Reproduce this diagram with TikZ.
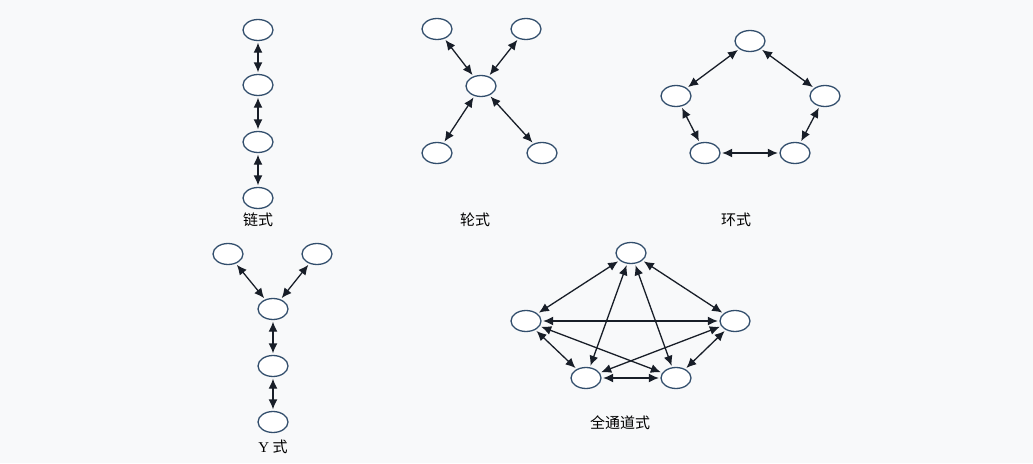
\documentclass[tikz,border=0pt]{standalone}
\usepackage{fontspec}
\newfontfamily\cjk{Noto Sans CJK SC}
\usetikzlibrary{arrows.meta,shapes.geometric}
\definecolor{paper}{RGB}{248,249,250}
\definecolor{rim}{RGB}{50,78,108}
\definecolor{ink}{RGB}{24,30,40}

\begin{document}
\begin{tikzpicture}[
  x=1pt, y=-1pt,
  >={Latex[length=10pt,width=9pt]},
  member/.style={ellipse, draw=rim, line width=1.3pt, fill=white, minimum width=30pt, minimum height=21pt, inner sep=0pt},
  link/.style={<->, line width=1.3pt, draw=ink, shorten <=1.5pt, shorten >=1.5pt},
  caption/.style={font=\cjk\fontsize{15}{17}\selectfont, text=black}
]
\fill[paper] (0,0) rectangle (1033,463);
\useasboundingbox (0,0) rectangle (1033,463);

% Chain
\foreach \i/\y in {1/30,2/85,3/142,4/198}
  \node[member] (c\i) at (258,\y) {};
\foreach \a/\b in {1/2,2/3,3/4}
  \draw[link] (c\a) -- (c\b);
\node[caption] (chainlab) at (258,220) {链式};

% Wheel
\node[member] (w0) at (481,86) {};
\node[member] (w1) at (437,29) {};
\node[member] (w2) at (526,29) {};
\node[member] (w3) at (437,153) {};
\node[member] (w4) at (542,153) {};
\foreach \b in {1,2,3,4}
  \draw[link] (w0) -- (w\b);
\node[caption] (wheellab) at (475,220) {轮式};

% Circle
\node[member] (r1) at (750,41) {};
\node[member] (r2) at (825,96) {};
\node[member] (r3) at (795,153) {};
\node[member] (r4) at (705,153) {};
\node[member] (r5) at (676,96) {};
\foreach \a/\b in {1/2,2/3,3/4,4/5,5/1}
  \draw[link] (r\a) -- (r\b);
\node[caption] (ringlab) at (736,220) {环式};

% Y
\node[member] (y1) at (228,254) {};
\node[member] (y2) at (317,254) {};
\node[member] (y3) at (273,309) {};
\node[member] (y4) at (273,366) {};
\node[member] (y5) at (273,422) {};
\foreach \a/\b in {1/3,2/3,3/4,4/5}
  \draw[link] (y\a) -- (y\b);
\node[caption] (ylab) at (273,447) {{\fontspec{Liberation Serif}Y} 式};

% All-channel
\node[member] (a1) at (631,253) {};
\node[member] (a2) at (735,321) {};
\node[member] (a3) at (676,378) {};
\node[member] (a4) at (586,378) {};
\node[member] (a5) at (526,321) {};
\foreach \a/\b in {1/2,1/3,1/4,1/5,2/3,2/4,2/5,3/4,3/5,4/5}
  \draw[link] (a\a) -- (a\b);
\node[caption] (alllab) at (620,423) {全通道式};
\end{tikzpicture}
\end{document}
